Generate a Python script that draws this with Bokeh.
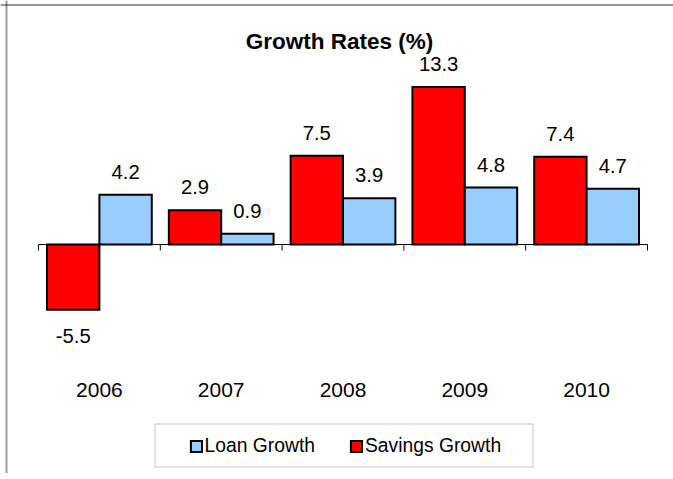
from bokeh.plotting import figure
from bokeh.models import (ColumnDataSource, Range1d, LabelSet, Label, Legend, LegendItem,
                          BoxAnnotation, LinearAxis, FixedTicker, Span)
from bokeh.core.properties import value
from bokeh.embed import file_html
from bokeh.resources import INLINE

# ---- data ----
years = ["2006", "2007", "2008", "2009", "2010"]
loan_growth = [4.2, 0.9, 3.9, 4.8, 4.7]
savings_growth = [-5.5, 2.9, 7.5, 13.3, 7.4]
series_names = ["Loan Growth", "Savings Growth"]
title_text = "Growth Rates (%)"

# ---- layout constants (page / canvas pixels) ----
W, H = 673, 473
CAT_LEFT_PX, CAT_RIGHT_PX = 38, 647    # category area edges
ZERO_PX = 244                          # pixel row of value 0
PXY = 11.85                            # pixels per value unit
FONT = "Liberation Sans"

n = len(years)
PXX = (CAT_RIGHT_PX - CAT_LEFT_PX) / n
x_start = -CAT_LEFT_PX / PXX
x_end = n + (W - CAT_RIGHT_PX) / PXX
y_end = ZERO_PX / PXY
y_start = -(H - ZERO_PX) / PXY


def cx(px):
    return x_start + px / PXX


def cy(py):
    return y_end - py / PXY


p = figure(width=W, height=H, x_range=Range1d(x_start, x_end),
           y_range=Range1d(y_start, y_end), output_backend="svg",
           toolbar_location=None, x_axis_location=None, y_axis_location=None,
           min_border=0, outline_line_color=None,
           background_fill_color="white", border_fill_color="white")
p.styles = {"overflow": "hidden"}
p.xgrid.grid_line_color = None
p.ygrid.grid_line_color = None

centers = [i + 0.5 for i in range(n)]
bounds = list(range(n + 1))
BW = 0.43

src = ColumnDataSource(dict(
    center=centers,
    x_sav=[c - BW / 2 for c in centers],
    x_loan=[c + BW / 2 for c in centers],
    loan=loan_growth,
    savings=savings_growth,
    loan_txt=[f"{v:.1f}" for v in loan_growth],
    sav_txt=[f"{v:.1f}" for v in savings_growth],
    loan_off=[16 if v >= 0 else -33 for v in loan_growth],
    sav_off=[16 if v >= 0 else -33 for v in savings_growth],
))

sav_r = p.vbar(x="x_sav", top="savings", bottom=0, width=BW, source=src,
               fill_color="#FF0000", line_color="black", line_width=2, line_join="miter")
loan_r = p.vbar(x="x_loan", top="loan", bottom=0, width=BW, source=src,
                fill_color="#99CCFF", line_color="black", line_width=2, line_join="miter")

# zero line across the category area and boundary ticks
p.segment(x0=[bounds[0]], x1=[bounds[-1]], y0=[0], y1=[0], line_color="black",
          line_width=1, level="underlay")
tick_len = 6 / PXY
p.segment(x0=bounds, x1=bounds, y0=[0] * len(bounds), y1=[-tick_len] * len(bounds),
          line_color="black", line_width=1)

# category labels: an axis drawn at a fixed location inside the plot
xax = LinearAxis(fixed_location=cy(382.5), ticker=FixedTicker(ticks=centers),
                 major_label_overrides={c: y for c, y in zip(centers, years)})
xax.axis_line_color = None
xax.major_tick_line_color = None
xax.minor_tick_line_color = None
xax.major_tick_out = 0
xax.major_tick_in = 0
xax.major_label_standoff = 0
xax.major_label_text_font = FONT
xax.major_label_text_font_size = "21px"
xax.major_label_text_color = "black"
p.add_layout(xax, "below")

# data labels
for xf, fld, txt, off in [("x_sav", "savings", "sav_txt", "sav_off"),
                          ("x_loan", "loan", "loan_txt", "loan_off")]:
    p.add_layout(LabelSet(x=xf, y=fld, text=txt, y_offset=off, source=src,
                          text_align="center", text_baseline="alphabetic",
                          text_font=value(FONT), text_font_size=value("20.3px"),
                          text_color="black"))

# title
p.add_layout(Label(x=cx(339), y=cy(41), text=title_text, text_align="center",
                   text_baseline="alphabetic", text_font=FONT,
                   text_font_size="22.5px", text_font_style="bold",
                   text_color="black"))

# legend (location is measured from the plot's bottom-left corner)
legend = Legend(items=[LegendItem(label=series_names[0], renderers=[loan_r]),
                       LegendItem(label=series_names[1], renderers=[sav_r])],
                orientation="horizontal", location=(188.6, 22 - (479 - H)), padding=0,
                spacing=34, glyph_width=14, glyph_height=14, label_height=14,
                label_standoff=2, margin=0, label_text_font=FONT,
                label_text_font_size="19.3px", label_text_color="black",
                border_line_color=None, background_fill_color=None)
p.add_layout(legend)

# legend frame
p.add_layout(BoxAnnotation(left=cx(154.5), right=cx(532.5), top=cy(423.5),
                           bottom=cy(466.5), fill_alpha=0, line_color="#444444",
                           line_width=1, level="overlay"))

# chart border: left edge (grey, 2px) and top edge (dark, 1px)
p.add_layout(Span(location=cx(6), dimension="height", line_color="#9a9a9a",
                  line_width=2))
p.add_layout(Span(location=cy(4.5), dimension="width", line_color="#2a2a2a",
                  line_width=1))

open("out.html", "w").write(file_html(p, INLINE))
